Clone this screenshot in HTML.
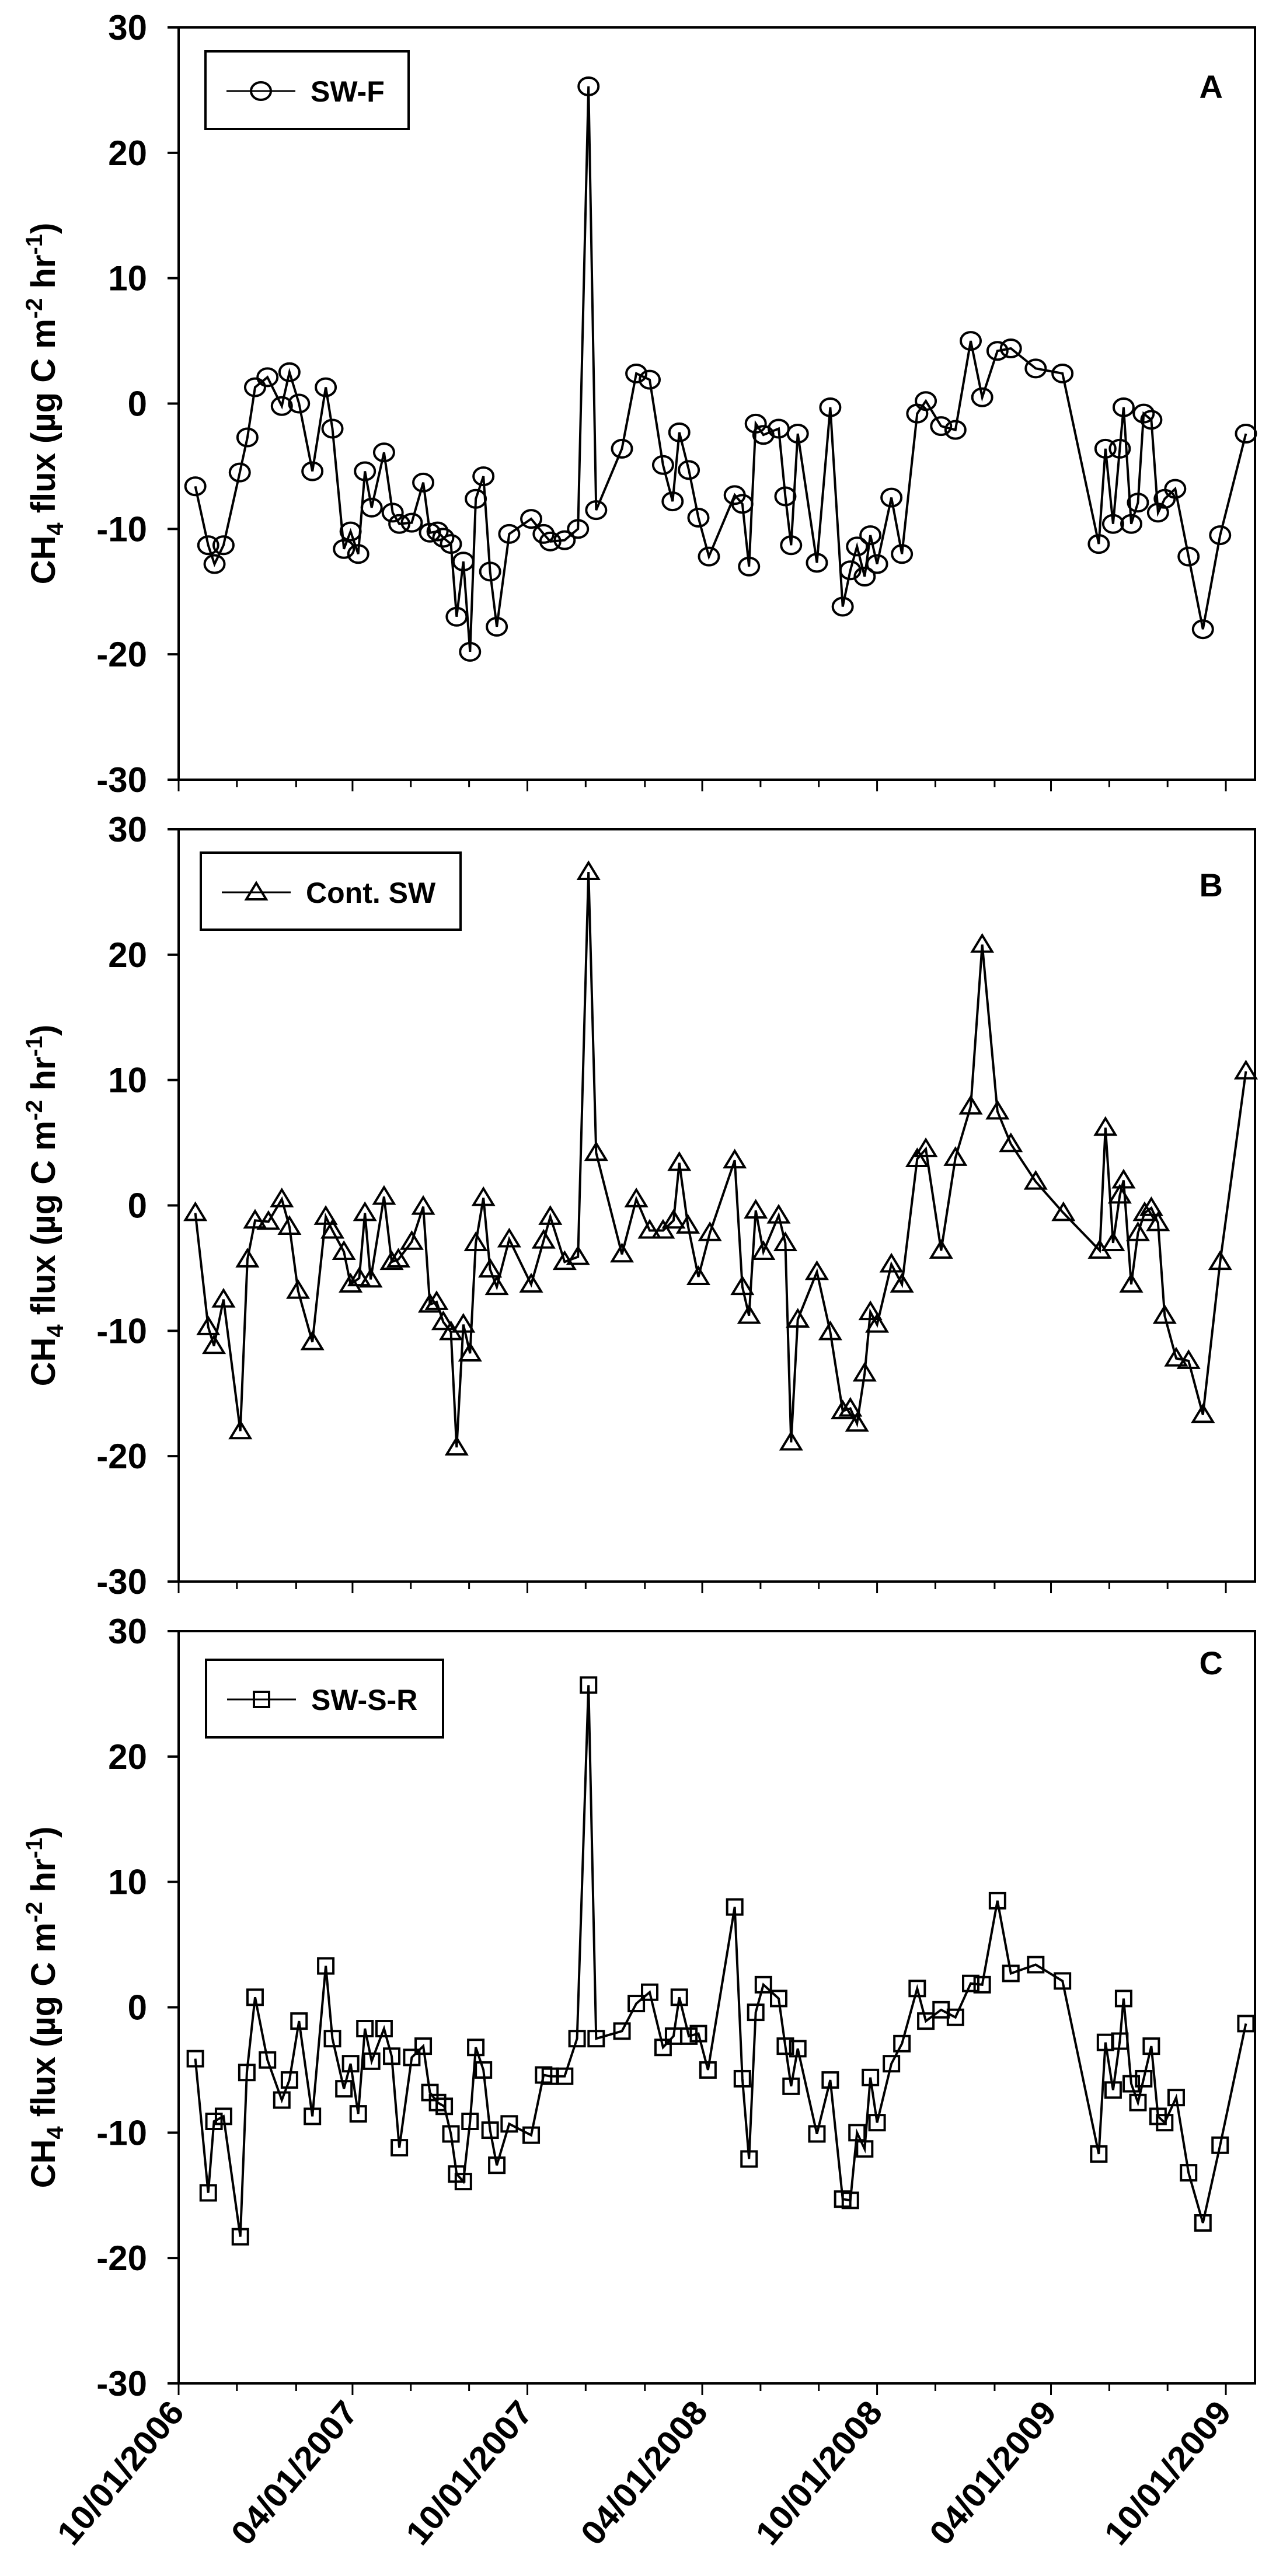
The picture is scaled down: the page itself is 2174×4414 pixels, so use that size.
<!DOCTYPE html>
<html><head><meta charset="utf-8"><style>
html,body{margin:0;padding:0;background:#fff;}
svg{display:block;font-family:"Liberation Sans",Arial,sans-serif;}
</style></head><body>
<svg id="fig" width="2174" height="4414" viewBox="0 0 2174 4414" xmlns="http://www.w3.org/2000/svg"></svg>
<script>
// Days since 10/01/2006
const daysA=[17.5,31,37.6,47,64,72,80,93,108,116,126,140,154,161,173,180,188,195,202,215,224,231,244,256,263,271,277,285,291,298,305,311,319,326,333,346,369,382,389,404,418,429,437,464,479,493,507,517,524,534,544,555,582,590,597,604,612,628,635,641,648,668,682,695,703,710,718,724,731,746,757,773,782,798,813,829,841,857,871,897,925,963,970,978,985,989,997,1004,1010,1018,1025,1032,1043,1057,1072,1090,1117];
const valsA=[-6.6,-11.3,-12.8,-11.3,-5.5,-2.7,1.3,2.1,-0.2,2.5,0,-5.4,1.3,-2,-11.6,-10.2,-12,-5.4,-8.3,-3.9,-8.7,-9.6,-9.5,-6.3,-10.3,-10.2,-10.7,-11.2,-17,-12.6,-19.8,-7.6,-5.8,-13.4,-17.8,-10.4,-9.2,-10.4,-11,-10.9,-10,25.3,-8.5,-3.6,2.4,1.9,-4.9,-7.8,-2.3,-5.3,-9.1,-12.2,-7.3,-8,-13,-1.6,-2.5,-2,-7.4,-11.3,-2.4,-12.7,-0.3,-16.2,-13.3,-11.4,-13.8,-10.5,-12.8,-7.5,-12,-0.8,0.2,-1.8,-2.1,5,0.5,4.2,4.4,2.8,2.4,-11.2,-3.6,-9.6,-3.6,-0.3,-9.6,-7.9,-0.8,-1.3,-8.7,-7.6,-6.8,-12.2,-18,-10.5,-2.4];
const daysB=[17.5,31,37,47,64.6,72,80,94,108,116,125,140,154,161,173,180,189,195,201,215,223,230,244,256,263,270,277,285,291,298,305,311,319,326,333,346,369,382,389,404,418,429,437,464,479,493,507,518,524,533,544,556,582,590,597,604,612,628,635,641,648,668,682,695,703,710,718,724,731,746,757,773,782,798,813,829,841,857,871,897,926,964,970,978,985,989,997,1004,1011,1018,1025,1032,1044,1057,1072,1090,1117];
const valsB=[-0.6,-9.7,-11.2,-7.5,-18,-4.3,-1.2,-1.3,0.5,-1.7,-6.8,-10.9,-0.9,-2,-3.7,-6.3,-5.8,-0.6,-5.9,0.7,-4.5,-4.3,-2.9,-0.1,-7.9,-7.7,-9.3,-10.1,-19.3,-9.5,-11.8,-3,0.6,-5.1,-6.5,-2.7,-6.3,-2.8,-0.9,-4.5,-4.1,26.6,4.2,-3.9,0.5,-2,-2,-1.2,3.4,-1.6,-5.7,-2.2,3.6,-6.5,-8.8,-0.4,-3.7,-0.8,-3,-18.9,-9.1,-5.3,-10.1,-16.4,-16.2,-17.4,-13.4,-8.5,-9.5,-4.7,-6.3,3.7,4.5,-3.6,3.8,7.9,20.8,7.5,4.9,1.9,-0.6,-3.6,6.2,-3,0.8,2,-6.3,-2.2,-0.6,-0.2,-1.4,-8.8,-12.2,-12.4,-16.7,-4.5,10.7];
const daysC=[17.5,31,37,47,64.6,71.4,80,93,108,116,126,140,154,161,173,180,188,195,202,215,223,231,244,256,263,271,278,285,291,298,305,311,319,326,333,346,369,382,389,404,417,429,437,464,479,493,507,518,524,534,544,554,582,590,597,604,612,628,635,641,648,668,682,695,703,710,718,724,731,746,757,773,782,798,813,829,841,857,871,897,925,963,970,978,985,989,997,1004,1010,1018,1025,1032,1044,1057,1072,1090,1117];
const valsC=[-4.1,-14.8,-9.1,-8.7,-18.3,-5.2,0.8,-4.2,-7.4,-5.8,-1.1,-8.7,3.3,-2.5,-6.5,-4.5,-8.5,-1.7,-4.3,-1.7,-3.9,-11.2,-4,-3.1,-6.8,-7.6,-7.9,-10.1,-13.3,-13.9,-9.1,-3.2,-5,-9.8,-12.6,-9.3,-10.2,-5.4,-5.5,-5.5,-2.5,25.7,-2.5,-1.9,0.3,1.2,-3.2,-2.3,0.8,-2.3,-2.1,-5,8,-5.7,-12.1,-0.4,1.8,0.7,-3.1,-6.3,-3.3,-10.1,-5.8,-15.3,-15.4,-10,-11.3,-5.6,-9.2,-4.5,-2.9,1.5,-1.1,-0.2,-0.8,1.9,1.8,8.5,2.7,3.4,2.1,-11.7,-2.8,-6.6,-2.7,0.7,-6.1,-7.6,-5.7,-3.1,-8.7,-9.2,-7.2,-13.2,-17.2,-11,-1.3];
const yTicks=[30,20,10,0,-10,-20,-30];
const xTickLabels=["10/01/2006","04/01/2007","10/01/2007","04/01/2008","10/01/2008","04/01/2009","10/01/2009"];
const seriesNames=["SW-F","Cont. SW","SW-S-R"];
const panelLetters=["A","B","C"];

const NS="http://www.w3.org/2000/svg";
const svg=document.getElementById('fig');
const X0=306, X1=2150, DMAX=1126.5;
const YMIN=-30, YMAX=30;
const panels=[{top:47,bot:1336},{top:1421,bot:2710},{top:2795,bot:4084}];
function el(t,a,p){const e=document.createElementNS(NS,t);for(const k in a)e.setAttribute(k,a[k]);(p||svg).appendChild(e);return e;}
function xs(d){return X0+(X1-X0)*d/DMAX;}
const base=Date.UTC(2006,9,1);
function dayOf(y,m){return (Date.UTC(y,m-1,1)-base)/86400000;}

function marker(kind,cx,cy,g){
  let m;
  if(kind===0){m=el('ellipse',{cx:cx,cy:cy,rx:17,ry:15,fill:'none',stroke:'#000','stroke-width':4},g);}
  else if(kind===1){m=el('polygon',{points:`${cx},${cy-16} ${cx-17},${cy+12} ${cx+17},${cy+12}`,fill:'none',stroke:'#000','stroke-width':4},g);}
  else {m=el('rect',{x:cx-13,y:cy-13,width:26,height:26,fill:'none',stroke:'#000','stroke-width':4},g);}
  return m;
}

const allDays=[daysA,daysB,daysC], allVals=[valsA,valsB,valsC];
const legendBoxes=[{x:352,y:88,w:348,h:133},{x:344,y:1461,w:445,h:132},{x:353,y:2844,w:406,h:133}];
const letterY=[168,1536,2869];

panels.forEach((p,i)=>{
  const ys=v=>p.bot-(v-YMIN)/(YMAX-YMIN)*(p.bot-p.top);
  const g=el('g',{});
  
  
  const fr=el('rect',{x:X0,y:p.top,width:X1-X0,height:p.bot-p.top,fill:'none',stroke:'#000','stroke-width':4},g);
  
  
  yTicks.forEach(v=>{
    const t=el('line',{x1:X0-19,x2:X0,y1:ys(v),y2:ys(v),stroke:'#000','stroke-width':4},g);
    
    
    const tx=el('text',{x:252,y:ys(v)+21,'text-anchor':'end','font-size':60,'font-weight':'bold'},g);
    tx.textContent=v;
    
    
  });
  for(let k=0;k<=18;k++){
    const mo=10+2*k, y=2006+Math.floor((mo-1)/12), m=((mo-1)%12)+1;
    const xx=xs(dayOf(y,m));
    const major=k%3===0;
    const t=el('line',{x1:xx,x2:xx,y1:p.bot,y2:p.bot+(major?20:13),stroke:'#000','stroke-width':3},g);
    
    
  }
  const cy=(p.top+p.bot)/2;
  const tt=el('text',{x:0,y:0,'text-anchor':'middle','font-size':58,'font-weight':'bold',transform:`translate(94,${cy}) rotate(-90)`},g);
  tt.innerHTML='CH<tspan font-size="40" dy="14">4</tspan><tspan dy="-14"> flux (µg C m</tspan><tspan font-size="40" dy="-22">-2</tspan><tspan dy="22"> hr</tspan><tspan font-size="40" dy="-22">-1</tspan><tspan dy="22">)</tspan>';
  
  
  const ds=allDays[i], vs=allVals[i];
  const pts=ds.map((d,j)=>xs(d).toFixed(1)+','+ys(vs[j]).toFixed(1)).join(' ');
  const pl=el('polyline',{points:pts,fill:'none',stroke:'#000','stroke-width':4,'stroke-linejoin':'miter'},g);
  
  
  ds.forEach((d,j)=>{
    const m=marker(i,xs(d),ys(vs[j]),g);
    
    
  });
  const lb=legendBoxes[i];
  const lg=el('g',{},g);
  
  
  el('rect',{x:lb.x,y:lb.y,width:lb.w,height:lb.h,fill:'#fff',stroke:'#000','stroke-width':4},lg);
  const ly=lb.y+68;
  el('line',{x1:lb.x+36,x2:lb.x+154,y1:ly,y2:ly,stroke:'#000','stroke-width':3},lg);
  marker(i,lb.x+95,ly,lg);
  const lt=el('text',{x:lb.x+180,y:ly+18,'font-size':50,'font-weight':'bold'},lg);
  lt.textContent=seriesNames[i];
  
  
  const pt=el('text',{x:2095,y:letterY[i],'text-anchor':'end','font-size':56,'font-weight':'bold'},g);
  pt.textContent=panelLetters[i];
  
  
});
xTickLabels.forEach((s,k)=>{
  const parts=s.split('/');
  const xx=xs(dayOf(+parts[2],+parts[0]));
  const t=el('text',{x:0,y:0,'text-anchor':'end','font-size':58,'font-weight':'bold',textLength:300,lengthAdjust:'spacingAndGlyphs',transform:`translate(${xx+12},4135) rotate(-50)`});
  t.textContent=s;
  
  
});
</script>
</body></html>
